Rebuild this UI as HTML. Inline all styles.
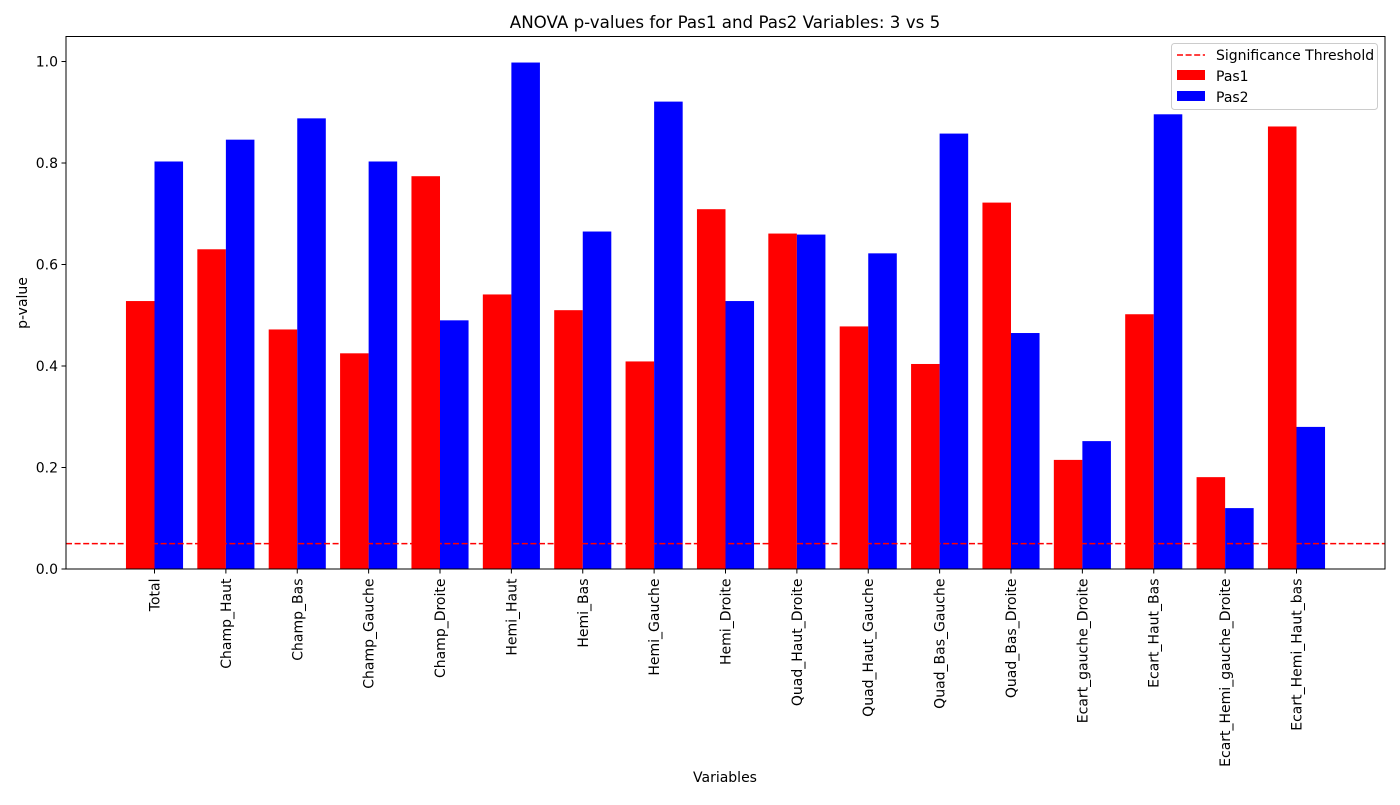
<!DOCTYPE html>
<html><head><meta charset="utf-8"><style>
body{margin:0;background:#fff;}
svg{font-family:"DejaVu Sans","Liberation Sans",sans-serif;}
</style></head><body>
<svg id="chart" width="1400" height="800">
<rect width="1400" height="800" fill="#fff"/>
<text x="725" y="28" font-size="16.7" text-anchor="middle">ANOVA p-values for Pas1 and Pas2 Variables: 3 vs 5</text>
<g id="bars"></g>
<g id="xticks"></g>
<g id="yticks"></g>
<line id="thresh" stroke="#ff0000" stroke-width="1.6" stroke-dasharray="6,2.6"/>
<rect x="66" y="36.5" width="1319" height="532.5" fill="none" stroke="#000" stroke-width="1"/>
<text x="725" y="782" font-size="14" text-anchor="middle">Variables</text>
<text transform="translate(27,303) rotate(-90)" font-size="14" text-anchor="middle">p-value</text>
<g>
<rect x="1171.5" y="43.5" width="206" height="66" rx="3" fill="#fff" fill-opacity="0.8" stroke="#ccc"/>
<line x1="1177" y1="55" x2="1205" y2="55" stroke="#ff0000" stroke-width="1.6" stroke-dasharray="6,2.6"/>
<text x="1216" y="60" font-size="14">Significance Threshold</text>
<rect x="1177" y="70" width="28" height="10" fill="#ff0000"/>
<text x="1216" y="81" font-size="14">Pas1</text>
<rect x="1177" y="91" width="28" height="10" fill="#0000ff"/>
<text x="1216" y="102" font-size="14">Pas2</text>
</g>
</svg>
<script>
const categories=["Total","Champ_Haut","Champ_Bas","Champ_Gauche","Champ_Droite","Hemi_Haut","Hemi_Bas","Hemi_Gauche","Hemi_Droite","Quad_Haut_Droite","Quad_Haut_Gauche","Quad_Bas_Gauche","Quad_Bas_Droite","Ecart_gauche_Droite","Ecart_Haut_Bas","Ecart_Hemi_gauche_Droite","Ecart_Hemi_Haut_bas"];
const pas1=[0.528,0.630,0.472,0.425,0.774,0.541,0.510,0.409,0.709,0.661,0.478,0.404,0.722,0.215,0.502,0.181,0.872];
const pas2=[0.803,0.846,0.888,0.803,0.490,0.998,0.665,0.921,0.528,0.659,0.622,0.858,0.465,0.252,0.896,0.120,0.280];
const yTicks=[0,0.2,0.4,0.6,0.8,1.0];
const threshold=0.05;
const NS="http://www.w3.org/2000/svg";
const X0=66,X1=1385,Y0=569,Y1=36.5;
const n=categories.length;
const xmin=-0.4-0.84,xmax=(n-1)+0.4+0.84;
const xs=v=>X0+(v-xmin)/(xmax-xmin)*(X1-X0);
const ymax=1.0493;
const ys=v=>Y0-v/ymax*(Y0-Y1);
function mk(t,a,p){const e=document.createElementNS(NS,t);for(const k in a)e.setAttribute(k,a[k]);p.appendChild(e);return e;}
const bars=document.getElementById('bars'),xt=document.getElementById('xticks'),yt=document.getElementById('yticks');
const w=0.4;
categories.forEach((c,i)=>{
  const r=mk('rect',{x:xs(i-w),y:ys(pas1[i]),width:xs(i)-xs(i-w),height:ys(0)-ys(pas1[i]),fill:'#ff0000'},bars);
  
  
  const b=mk('rect',{x:xs(i),y:ys(pas2[i]),width:xs(i+w)-xs(i),height:ys(0)-ys(pas2[i]),fill:'#0000ff'},bars);
  
  
  mk('line',{x1:xs(i),x2:xs(i),y1:Y0,y2:Y0+4.5,stroke:'#000'},xt);
  const t=mk('text',{transform:`translate(${xs(i)+5},${Y0+9.5}) rotate(-90)`,'font-size':14,'text-anchor':'end'},xt);
  t.textContent=c;
  
  
});
yTicks.forEach(v=>{
  mk('line',{x1:X0-4.5,x2:X0,y1:ys(v),y2:ys(v),stroke:'#000'},yt);
  const t=mk('text',{x:X0-8,y:ys(v)+5,'font-size':14,'text-anchor':'end'},yt);
  t.textContent=v.toFixed(1);
  
  
});
const th=document.getElementById('thresh');
th.setAttribute('x1',X0);th.setAttribute('x2',X1);th.setAttribute('y1',ys(threshold));th.setAttribute('y2',ys(threshold));
</script>
</body></html>
